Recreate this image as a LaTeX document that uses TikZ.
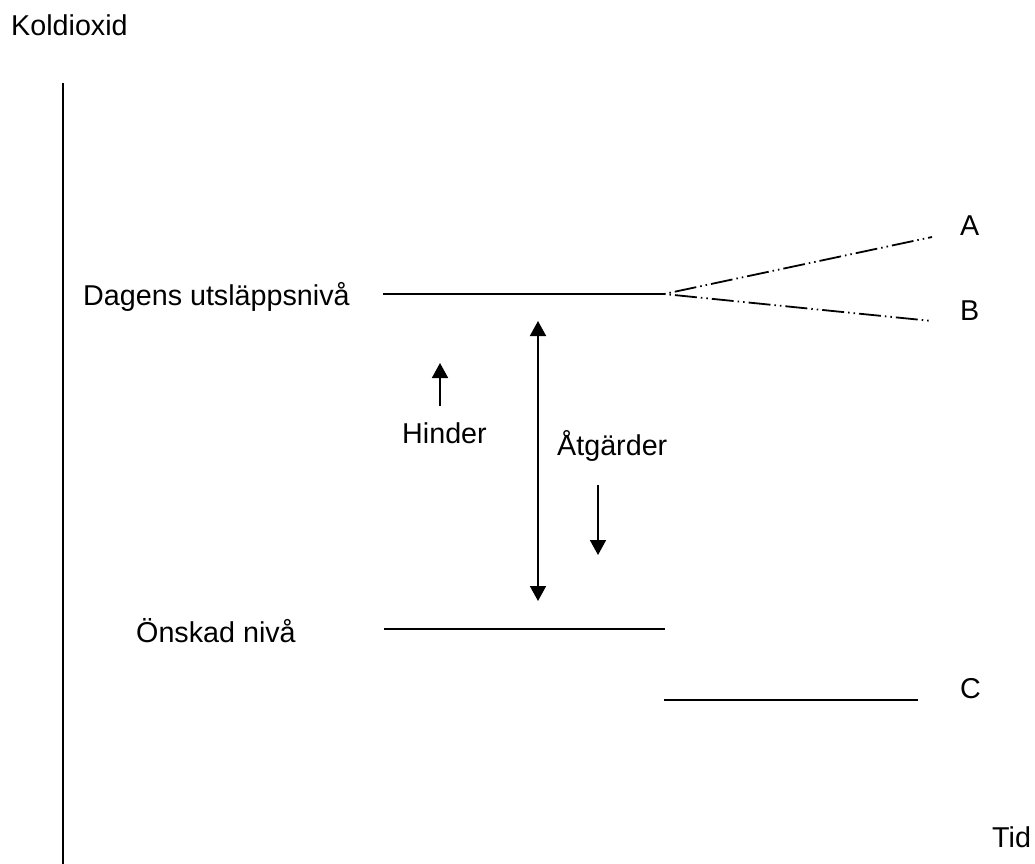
\documentclass[tikz,border=0pt]{standalone}
\usepackage{fontspec}
\setmainfont{Liberation Sans}
\usetikzlibrary{arrows.meta}
\begin{document}
\begin{tikzpicture}[x=1pt,y=-1pt,
  lbl/.style={anchor=base west,inner sep=0pt,font=\fontsize{28.7}{34}\selectfont},
  level/.style={line width=1.8pt},
  scenario/.style={line width=1.8pt,dash pattern=on 1.5pt off 4pt on 1.5pt off 4pt on 22pt off 4pt},
  tipline/.style={line width=1.8pt,-{Triangle[width=16pt,length=15pt]}},
  bothline/.style={line width=1.8pt,{Triangle[width=16pt,length=15pt]}-{Triangle[width=16pt,length=15pt]}}]
\useasboundingbox (0,0) rectangle (1035,863);
% labels
\node[lbl] (koldioxid) at (11,35) {Koldioxid};
\node[lbl] (dagens) at (83,305) {Dagens utsläppsnivå};
\node[lbl] (onskad) at (136,642) {Önskad nivå};
\node[lbl] (hinder) at (402,443) {Hinder};
\node[lbl] (atgarder) at (557,455) {Åtgärder};
\node[lbl] (a) at (960,235) {A};
\node[lbl] (b) at (960,320) {B};
\node[lbl] (c) at (960,698) {C};
\node[lbl] (tid) at (992,847) {Tid};
% vertical axis
\coordinate (axtop) at (63,83);
\coordinate (axbot) at (63,865);
\draw[level] (axtop) -- (axbot);
% present level and its two possible continuations
\coordinate (d1) at (383,294);
\coordinate (d2) at (664,294);
\coordinate (aend) at (932,237);
\coordinate (bend) at (932,321);
\draw[level] (d1) -- (d2);
\draw[scenario] (d2) -- (aend);
\draw[scenario] (d2) -- (bend);
% desired level and level C
\coordinate (o1) at (384,629);
\coordinate (o2) at (665,629);
\coordinate (c1) at (664,700);
\coordinate (c2) at (918,700);
\draw[level] (o1) -- (o2);
\draw[level] (c1) -- (c2);
% arrows
\coordinate (h1) at (440,406);
\coordinate (h2) at (440,363);
\draw[tipline] (h1) -- (h2);
\coordinate (g1) at (538,321);
\coordinate (g2) at (538,601);
\draw[bothline] (g1) -- (g2);
\coordinate (t1) at (598,485);
\coordinate (t2) at (598,555);
\draw[tipline] (t1) -- (t2);
\end{tikzpicture}
\end{document}
